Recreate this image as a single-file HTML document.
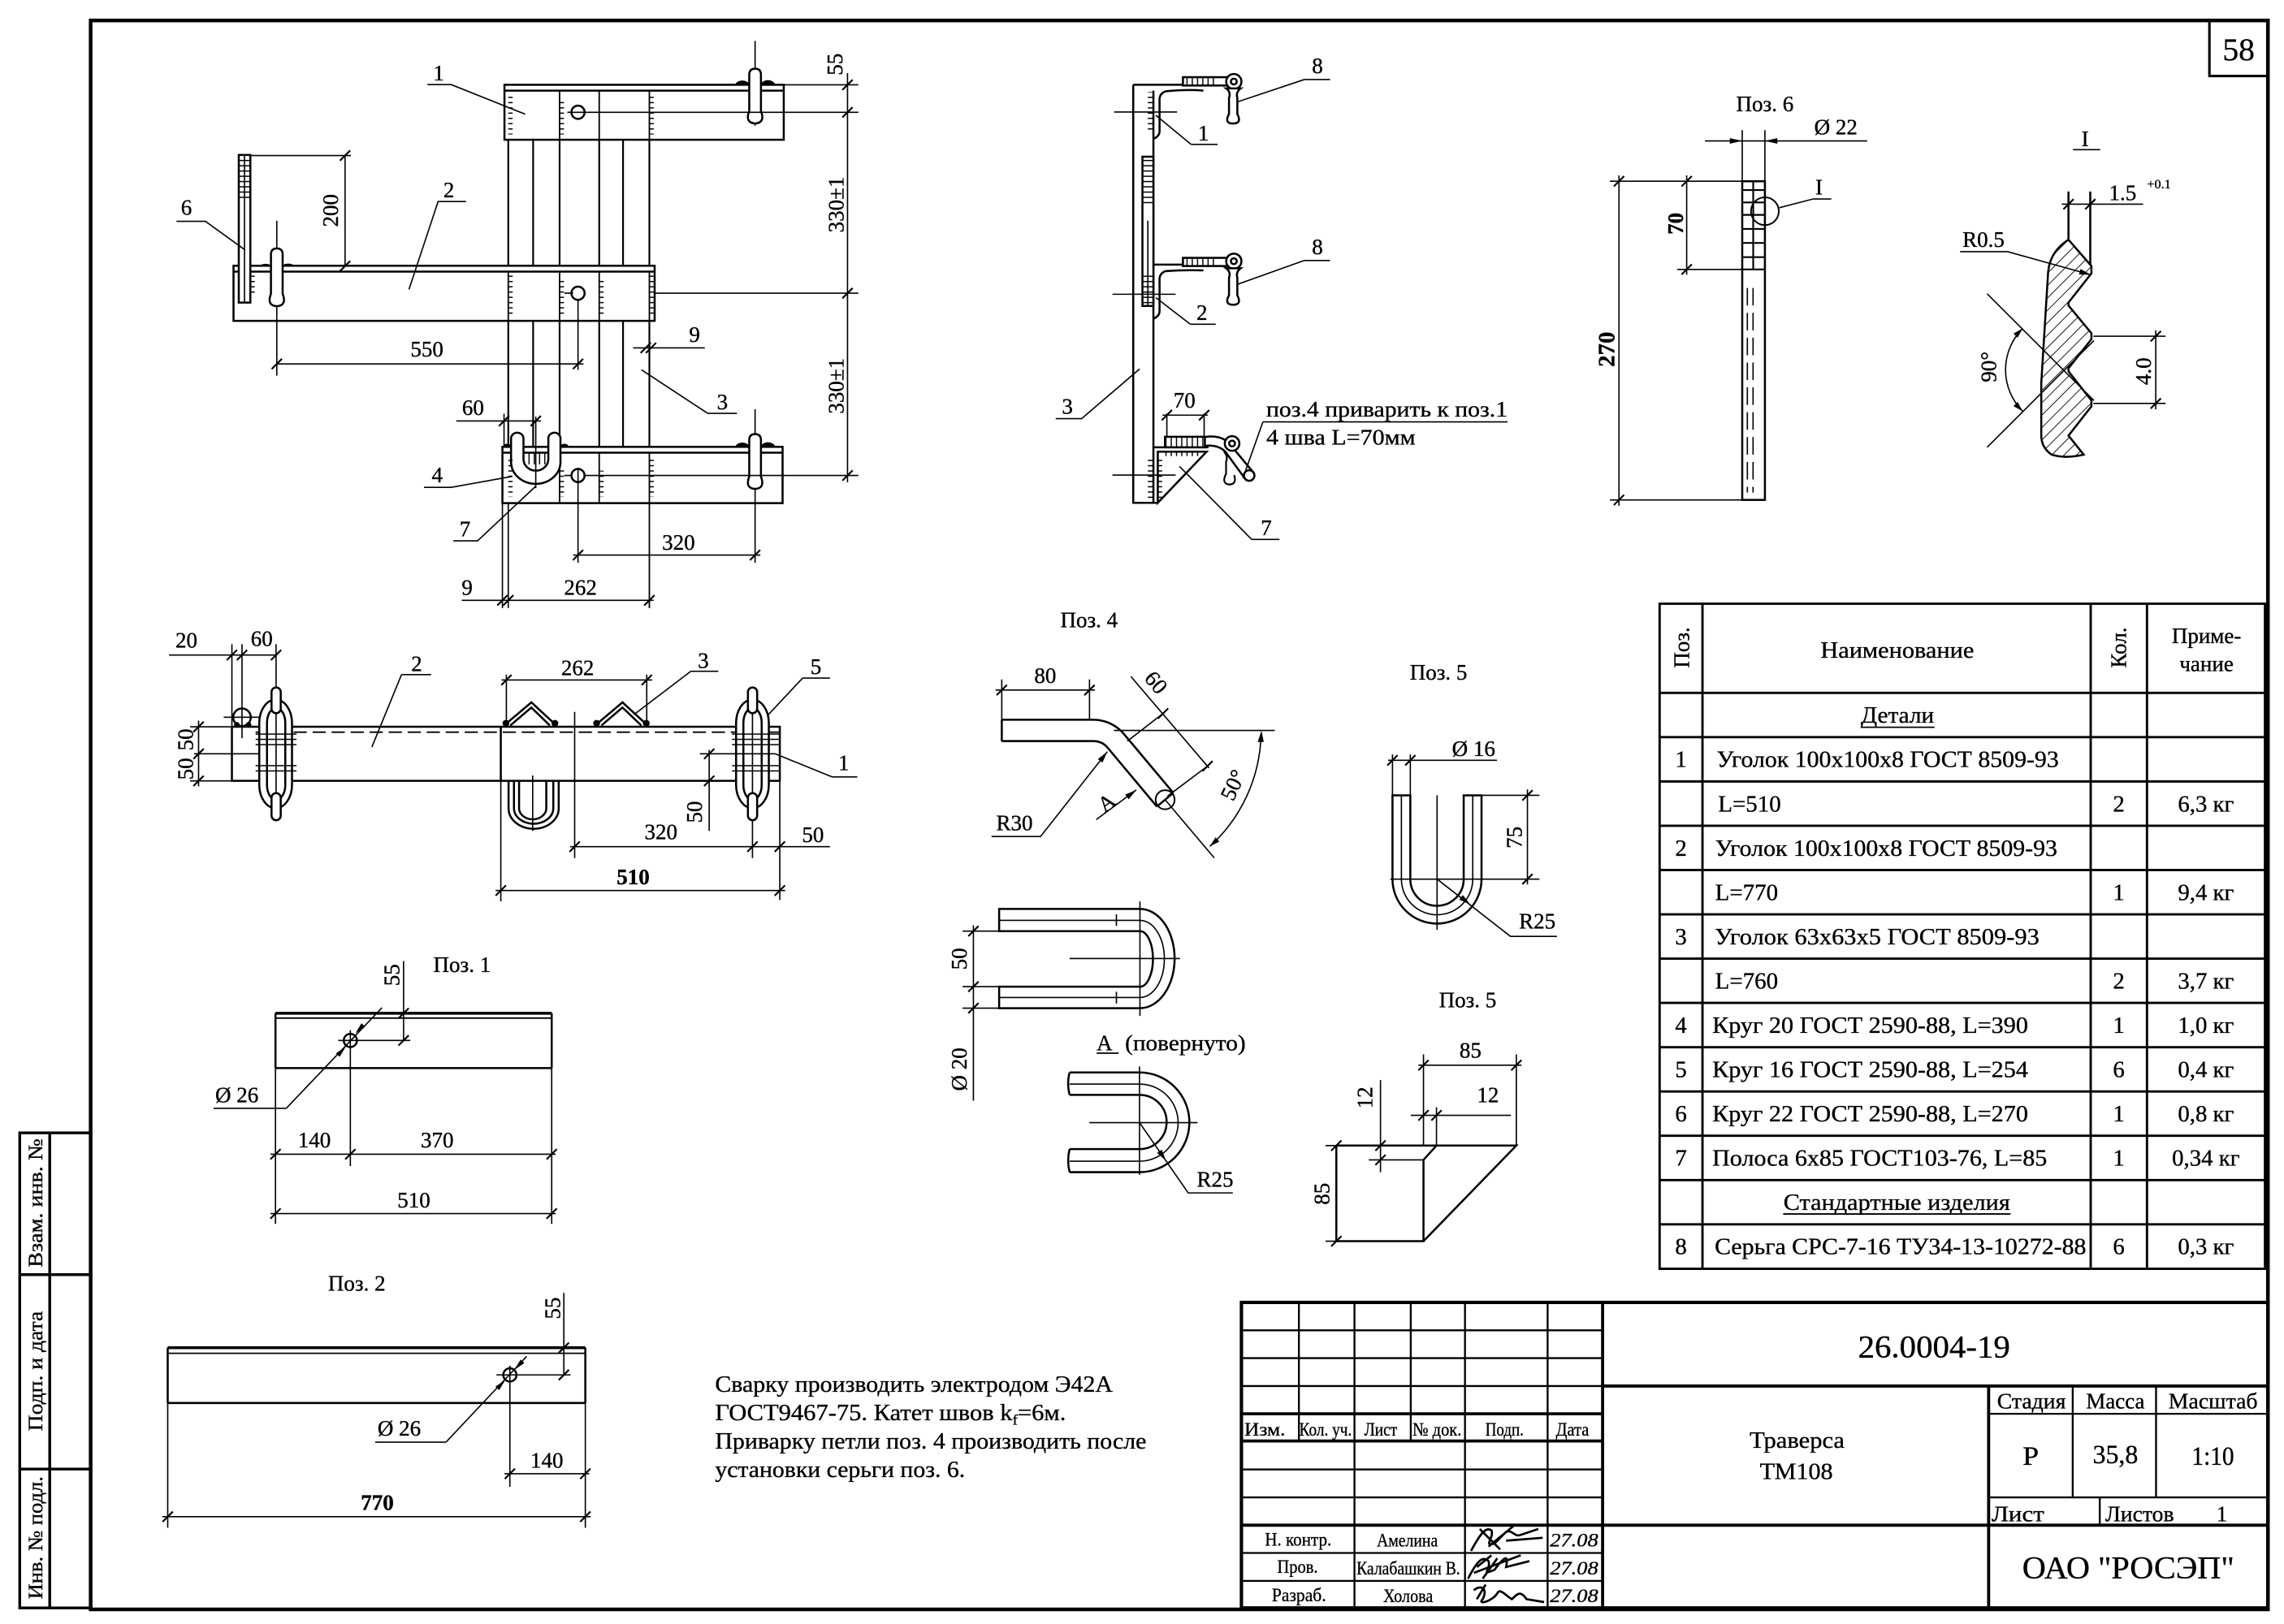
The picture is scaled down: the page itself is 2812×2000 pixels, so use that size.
<!DOCTYPE html>
<html><head><meta charset="utf-8"><title>Траверса ТМ108</title>
<style>
html,body{margin:0;padding:0;background:#fff;width:2812px;height:2000px;overflow:hidden}
svg{display:block}
text{font-family:"Liberation Serif","DejaVu Serif",serif;fill:#000;stroke:#000;stroke-width:0.2}
</style></head><body>
<svg xmlns="http://www.w3.org/2000/svg" width="2812" height="2000" viewBox="0 0 1562 1111" preserveAspectRatio="none">
<defs>
<pattern id="tk" width="40" height="3.6" patternUnits="userSpaceOnUse"><line x1="0" y1="1.8" x2="40" y2="1.8" stroke="#000" stroke-width="0.8"/></pattern>
<pattern id="tkv" width="3.6" height="40" patternUnits="userSpaceOnUse"><line x1="1.8" y1="0" x2="1.8" y2="40" stroke="#000" stroke-width="0.8"/></pattern>
<pattern id="ht" width="6" height="6" patternUnits="userSpaceOnUse" patternTransform="rotate(45)"><line x1="0" y1="0" x2="0" y2="6" stroke="#000" stroke-width="1"/></pattern>
</defs>

<!-- ============ MAIN OUTLINES ============ -->
<g fill="none" stroke="#000" stroke-width="1.4">
<rect x="62" y="14" width="1489" height="1087" stroke-width="2.5"/>
<rect x="1511" y="14" width="40" height="38" stroke-width="1.7"/>
<rect x="13.5" y="775" width="48.5" height="325" stroke-width="1.9"/>
<path d="M34,775V1100M13.5,872H62M13.5,1005H62" stroke-width="1.9"/>

<!-- ===== Drawing 1 (plan) ===== -->
<rect x="345" y="58" width="191" height="37.6" fill="#fff"/>
<path d="M345,62H536"/>
<rect x="159.7" y="181.8" width="288" height="37.7" fill="#fff"/>
<path d="M159.7,185.8H447.7"/>
<rect x="343.6" y="305.7" width="191.6" height="38.5" fill="#fff"/>
<path d="M343.6,309.7H535.2"/>
<path d="M347.6,95.6V181.8M364.6,95.6V181.8M382.7,95.6V181.8M409.8,95.6V181.8M426.1,95.6V181.8M444.1,95.6V181.8M347.6,219.5V305.7M364.6,219.5V305.7M382.7,219.5V305.7M409.8,219.5V305.7M426.1,219.5V305.7M444.1,219.5V305.7" stroke-width="1.2"/>
<path d="M382.7,62V95.6M409.8,62V95.6M444.1,62V95.6M347.6,185.8V219.5M382.7,185.8V219.5M409.8,185.8V219.5M444.1,185.8V219.5M409.8,309.7V344.2M444.1,309.7V416M382.7,309.7V344.2" stroke-width="1"/>
<circle cx="395.3" cy="76.8" r="4.5" fill="#fff"/>
<circle cx="395.3" cy="200.6" r="4.5" fill="#fff"/>
<circle cx="395.3" cy="325.3" r="4.5" fill="#fff"/>
<path fill="#fff" d="M512.4,51Q512.4,47 516.4,47Q520.4,47 520.4,51L520.4,76Q523.5,84 516.4,84.5Q509.3,84 512.4,76Z"/>
<path fill="#fff" d="M185.3,174Q185.3,170 189.3,170Q193.3,170 193.3,174L193.3,201Q196.4,209 189.3,209.5Q182.2,209 185.3,201Z"/>
<path fill="#fff" d="M512.4,301Q512.4,297 516.4,297Q520.4,297 520.4,301L520.4,326Q523.5,334 516.4,334.5Q509.3,334 512.4,326Z"/>
<rect x="163.3" y="106" width="7.9" height="101" fill="#fff"/>
<path d="M167.2,106V207" stroke-width="0.9"/>
<path fill="#fff" d="M349.5,300V316A16.9,15 0 0 0 383.3,316V300A4.15,4 0 0 0 375,300V314A8.5,8 0 0 1 358,314V300A4.25,4 0 0 0 349.5,300Z"/>
<rect x="358" y="309.7" width="17" height="8" fill="url(#tkv)" stroke="none"/>

<!-- ===== Drawing 2 (side) ===== -->
<path d="M775,58V344H791.8M775,58H824M788.8,62V344"/>
<path d="M823,62Q812,61 797,62.5Q793,64 793,68V90Q793,93 789,95"/>
<rect x="809" y="52.8" width="35" height="5.7" fill="#fff"/>
<circle cx="843.8" cy="55.8" r="5.2" fill="#fff"/><circle cx="843.8" cy="55.8" r="2"/>
<path fill="#fff" d="M838.5,60.5Q842,63 840.5,67V78Q837,84.5 843.3,84.5Q849.5,84.5 846.2,78V67Q845,63 848.5,60.5Z"/>
<rect x="781.3" y="107.2" width="7.5" height="102.1" fill="#fff"/>
<path d="M785,151V209.3" stroke-width="0.9"/>
<path d="M788.8,181H824"/>
<path d="M823,185Q812,184.5 797,185.5Q793,187 793,191V213Q793,216 789,218"/>
<rect x="809" y="176.4" width="35" height="5.6" fill="#fff"/>
<circle cx="843.8" cy="178.7" r="5.2" fill="#fff"/><circle cx="843.8" cy="178.7" r="2"/>
<path fill="#fff" d="M838.5,183.5Q842,186 840.5,190V202Q837,208.5 843.3,208.5Q849.5,208.5 846.2,202V190Q845,186 848.5,183.5Z"/>
<path d="M788.8,306H826.5"/>
<rect x="796.7" y="298.8" width="27.3" height="7.2" fill="#fff"/>
<path d="M791.8,309H825.2L791.8,344Z"/>
<path d="M824,299Q836,297 842,305L857,323M824,305Q833,304 838,309L851.5,327.5"/>
<circle cx="854.3" cy="325.3" r="3.6"/>
<circle cx="842.6" cy="303.4" r="5" fill="#fff"/><circle cx="842.6" cy="303.4" r="2"/>
<path d="M837,309Q840,312 838.5,316V324Q835,331 841,331.5Q846,331 844,325" stroke-width="1.2"/>

<!-- ===== Поз.6 ===== -->
<rect x="1191.5" y="124" width="15.5" height="218"/>
<path d="M1191.5,130H1207M1191.5,138.5H1207M1191.5,147H1207M1191.5,156.6H1207M1191.5,166.2H1207M1191.5,175.9H1207M1191.5,184.3H1207M1199,124V184.3" stroke-width="1.2"/>
<path d="M1195,197V337M1198.9,197V337" stroke-width="0.9" stroke-dasharray="12,5"/>
<circle cx="1207" cy="144.5" r="9.5" stroke-width="1.1"/>

<!-- ===== Detail I ===== -->
<path d="M1414.6,164L1430.3,182L1430.3,187L1414.6,207L1414.6,209L1430.3,228L1430.3,232L1414.6,252L1414.6,254L1430.3,274L1430.3,278L1414.6,298L1425,311Q1412,314 1403,311Q1396,306 1396,298L1396,262L1400.7,186Q1402,172 1414.6,164Z" fill="url(#ht)"/>
<path d="M1414.6,131V164M1429.5,131V181"/>

<!-- ===== Поз.4 U side view ===== -->
<path d="M683.3,621.8H779.6A23.7,33.95 0 0 1 779.6,689.7H683.3V675H779.6A8.9,19 0 0 0 779.6,637H683.3Z"/>
<path d="M683.3,629.6H779.6A16.7,26.4 0 0 1 779.6,682.4H683.3" stroke-width="0.9"/>
<!-- ===== View A ===== -->
<path d="M731.5,733.7H779.3A34.1,34.1 0 0 1 779.3,801.9H731.5M731.5,786.1H779.3A18.55,18.55 0 0 0 779.3,749H731.5M731.5,733.7Q729.5,741 731.5,749M731.5,786.1Q729.5,794 731.5,801.9"/>
<path d="M731.5,741.6H779.3A26.4,26.4 0 0 1 779.3,794.4H731.5" stroke-width="0.9"/>
<!-- ===== plate ===== -->
<path d="M913.9,783.7V849.1H973.5V793.5M913.9,783.7H1037L973.5,849.1M973.5,793.5L982.4,783.7"/>

<!-- ===== Drawing 4 (elevation) ===== -->
<path d="M158.6,497.2H533.3V534.2H158.6ZM342.5,497.2V534.2"/>
<path d="M174.8,500.9H533.3" stroke-width="1" stroke-dasharray="9,4"/>
<path d="M344.7,496.3L363.4,480.5L380.5,496.3M349,496.3L363.4,484L376,496.3M407,496.3L425.7,480.5L442.9,496.3M411.3,496.3L425.7,484L438.6,496.3"/>
<path d="M347.8,534.2V553A17.15,14 0 0 0 382.1,553V534.2M351.5,534.2V553A13.4,10.5 0 0 0 378.4,553V534.2M355,534.2V553A9.3,7.5 0 0 0 373.6,553V534.2"/>
<rect x="177.3" y="478.7" width="22.4" height="74.1" rx="11" ry="16" fill="#fff"/>
<rect x="182.6" y="484.5" width="12.5" height="62.5" rx="6" ry="10"/>
<rect x="185.7" y="470.3" width="6.3" height="17.6" rx="3.1" fill="#fff"/>
<rect x="185.7" y="542.6" width="6.3" height="18.5" rx="3.1" fill="#fff"/>
<path d="M188.8,488V542" stroke-width="0.9"/>
<rect x="503.4" y="478.7" width="22.4" height="74.1" rx="11" ry="16" fill="#fff"/>
<rect x="508.4" y="484.5" width="12.5" height="62.5" rx="6" ry="10"/>
<rect x="511.5" y="470.3" width="6.3" height="17.6" rx="3.1" fill="#fff"/>
<rect x="511.5" y="542.6" width="6.3" height="18.5" rx="3.1" fill="#fff"/>
<path d="M514.6,488V542" stroke-width="0.9"/>
<circle cx="165.5" cy="490.7" r="6"/>

<!-- ===== Поз.1 / Поз.2 ===== -->
<path d="M188.4,693.2H377.3M188.4,730.7H377.3M188.4,693.2V730.7M377.3,693.2V730.7"/>
<path d="M188.4,696.5H377.3" stroke-width="1"/>
<path d="M188.4,693.2H377.3" stroke-width="1.9"/>
<circle cx="239.6" cy="711.8" r="4.5"/>
<path d="M114.7,922H400.3M114.7,959.8H400.3M114.7,922V959.8M400.3,922V959.8"/>
<path d="M114.7,922H400.3" stroke-width="1.9"/>
<path d="M114.7,925.8H400.3" stroke-width="1"/>
<circle cx="348.7" cy="940.6" r="4.5"/>
</g>

<!-- weld ticks -->
<g stroke="none">
<rect x="347.6" y="64" width="3" height="28" fill="url(#tk)"/>
<rect x="382.7" y="68" width="3" height="24" fill="url(#tk)"/>
<rect x="444.1" y="64" width="3" height="28" fill="url(#tk)"/>
<rect x="347.6" y="188" width="3" height="28" fill="url(#tk)"/>
<rect x="382.7" y="190" width="3" height="26" fill="url(#tk)"/>
<rect x="409.8" y="190" width="3" height="26" fill="url(#tk)"/>
<rect x="444.1" y="188" width="3" height="28" fill="url(#tk)"/>
<rect x="347.6" y="312" width="3" height="28" fill="url(#tk)"/>
<rect x="382.7" y="320" width="3" height="20" fill="url(#tk)"/>
<rect x="409.8" y="322" width="3" height="18" fill="url(#tk)"/>
<rect x="444.1" y="312" width="3" height="28" fill="url(#tk)"/>
<rect x="163.3" y="107" width="7.9" height="30" fill="url(#tk)"/>
<rect x="171.2" y="186" width="3" height="16" fill="url(#tk)"/>
<rect x="785" y="63" width="3.8" height="26" fill="url(#tk)"/>
<rect x="781.3" y="108" width="7.5" height="33" fill="url(#tk)"/>
<rect x="781.3" y="188" width="7.5" height="22" fill="url(#tk)"/>
<rect x="785" y="312" width="3.8" height="30" fill="url(#tk)"/>
<rect x="791.8" y="313" width="3" height="28" fill="url(#tk)"/>
<rect x="795" y="309" width="26" height="3" fill="url(#tkv)"/>
<rect x="796.7" y="299" width="27" height="6.8" fill="url(#tkv)"/>
<rect x="811" y="53" width="20" height="5.3" fill="url(#tkv)"/>
<rect x="811" y="176.6" width="20" height="5.3" fill="url(#tkv)"/>
<rect x="174.8" y="501" width="28" height="9" fill="url(#tk)"/>
<rect x="174.8" y="521" width="28" height="9" fill="url(#tk)"/>
<rect x="500.6" y="501" width="32.7" height="9" fill="url(#tk)"/>
<rect x="500.6" y="521" width="32.7" height="9" fill="url(#tk)"/>
</g>

<!-- weld blobs -->
<g fill="#000" stroke="#000" stroke-width="0.6">
<path d="M503,58A5,4 0 0 1 512.4,58Z"/><path d="M520.4,58A5,4 0 0 1 530,58Z"/>
<path d="M178,181.8A5.5,4 0 0 1 185.3,181.8Z"/><path d="M193.3,181.8A5.5,4 0 0 1 201,181.8Z"/>
<path d="M503,305.7A5,4 0 0 1 512.4,305.7Z"/><path d="M520.4,305.7A5,4 0 0 1 530,305.7Z"/>
<path d="M344,305.7A3,3 0 0 1 349.5,305.7Z"/><path d="M383.3,305.7A3,3 0 0 1 388.8,305.7Z"/>
<circle cx="346" cy="494.8" r="2"/><circle cx="379.5" cy="494.8" r="2"/>
<circle cx="408" cy="494.8" r="2"/><circle cx="442" cy="494.8" r="2"/>
<circle cx="162" cy="495.8" r="1.6"/><circle cx="170" cy="495.8" r="1.6"/>
</g>

<!-- ============ THIN LINES ============ -->
<g fill="none" stroke="#000" stroke-width="0.9">
<!-- D1 -->
<path d="M388,76.8H587M448,200.6H587M386,200.6H392M399,325.3H587M386,325.3H391M395.3,320V385M395.3,205V253M516.4,28V47M516.4,84V86M516.4,280V297M516.4,334V385M189.3,151V170M189.3,209V257"/>
<path d="M171.3,106.4H240M236,106.4V182M189.3,249H399M433,238H482M312,288H370M344.7,283V306M366.4,285V334M392,379.7H520M315.8,410.7H447M343.6,344.2V416M347.6,344.2V416M536,58H587M579.6,50V330"/>
<path d="M292.3,57.9H308.6L359.2,78.1M120.7,151.4H140.5L167.6,171M318.7,137.9H299.6L279.7,198M484,282.8H504M484,282.8L438.7,253M290,333.4H308.6L350,326M310,370H326.6L366.4,332.6"/>
<!-- D2 -->
<path d="M762,76.6H805M760.8,201.3H804M760.8,325H804"/>
<path d="M814.6,98.8H832.7M814.6,98.8L790.5,78.9M892,54.4H909.6M892,54.4L846,69.8M814,221.8H831.4M814,221.8L790.5,203.6M892,178.2H909.6M892,178.2L846.3,194.5M722,286.4H739.7L779.4,252.4"/>
<path d="M798,282.9V298.8M823.5,282.9V298.8M795,284H826M863.7,288.6H1031M863.7,288.6L850,327.2M856,369H875M856,369L806.6,319"/>
<!-- Поз.6 -->
<path d="M1191.5,89V124M1207,89V124M1166,96.4H1277M1147,124H1191.5M1147,184.3H1191.5M1153.5,120V188M1101,124H1147M1101,342H1191.5M1107.2,120V346M1216.9,142.1L1240,136.1H1252.4"/>
<!-- Detail I -->
<path d="M1417.7,102.4H1436.3M1410,139.7H1465.6M1359,201L1432,274M1359,306L1432,233M1340.5,172.2H1373L1430,188M1431.6,230H1481M1431.6,276H1481M1474.3,226V280"/>
<path d="M1383.3,224.7A40,40 0 0 0 1383.3,281.3"/>
<!-- U side view dims -->
<path d="M779.6,616.7V695M731.5,655.7H807M658.3,637H683.3M658.3,675H683.3M658.3,689.7H683.3M665.7,633V753"/>
<path d="M763.5,625.5V633.5M763.5,678.5V686.5"/>
<path d="M750,720.5H765" stroke-width="1"/>
<!-- view A -->
<path d="M779.3,729.6V803.7M745,768H819M779.3,768L812.6,816.1H843.1"/>
<!-- plate dims -->
<path d="M973.5,721.3V783.7M982.4,757.4V783.7M1037,721.3V783.7M970,728.7H1040.5M964.8,763H1033.3M936.1,783.7H913.9M906.5,783.7H913.9M936.1,793.5H973.5M944.1,738.9V801.9M906.5,849.1H913.9"/>
<!-- D4 -->
<path d="M115.6,448.1H188.8M158.6,440.7V497.2M165.5,440.7V505M188.8,440.7V470.3M135.8,493V538M130,497.2H158.6M132.7,515.7H177.3M130,534.2H158.6"/>
<path d="M346.3,461.5V496M442.3,461.5V496M343,465.2H446"/>
<path d="M472.5,459.2H491.2M472.5,459.2L433.5,488.9M548.9,463.9H567.6M548.9,463.9L525.5,488.9M569.1,531.5H586.3M569.1,531.5L530.2,515.7M274.6,461.5H294.8M274.6,461.5L254.3,511.1"/>
<path d="M478.7,515.7H530.2M485,513V568.5M390,579.2H567.6M393,487V587M514.6,561V587M342.5,534.2V616.6M533.3,534.2V615.7M339,609.2H537M364.3,530.5V568.5M153,490.7H178"/>
<!-- Поз.1 / Поз.2 -->
<path d="M231.3,711.8H280.6M239.6,704.7V797.8M276,657.5V711.8M195.8,758.2L261.2,689.4M146.1,758.2H195.8M185,789.6H380M185,830.2H380M188.4,730.7V837.3M377.3,730.7V837.3"/>
<path d="M339.5,940.6H390.2M348.7,934.3V1017.2M385.6,884.5V941M305,986.6L360.2,927.9M256.6,986.6H305M345,1008.2H403M111,1037.6H404M114.7,959.8V1045.2M400.3,959.8V1045.2"/>
<path d="M1272.5,497.5H1323M1219.5,830.5H1375" stroke-width="1"/>
</g>

<!-- dimension ticks -->
<g fill="none" stroke="#000" stroke-width="1.2">
<path d="M232.5,109.9l7,-7M232.5,185.5l7,-7M185.8,252.5l7,-7M391.8,252.5l7,-7M438.1,241.5l7,-7M441.7,241.5l7,-7M341.2,291.5l7,-7M362.9,291.5l7,-7M391.8,383.2l7,-7M512.9,383.2l7,-7M340.1,414.2l7,-7M344.1,414.2l7,-7M440.6,414.2l7,-7M576.1,61.5l7,-7M576.1,80.3l7,-7M576.1,204.1l7,-7M576.1,328.8l7,-7"/>
<path d="M794.5,287.5l7,-7M820,287.5l7,-7"/>
<path d="M1150,127.5l7,-7M1150,187.8l7,-7M1103.7,127.5l7,-7M1103.7,345.5l7,-7M1411.1,143.2l7,-7M1426,143.2l7,-7M1470.8,233.5l7,-7M1470.8,279.5l7,-7"/>
<path d="M662.2,640.5l7,-7M662.2,678.5l7,-7M662.2,693.2l7,-7"/>
<path d="M970,732.2l7,-7M1033.5,732.2l7,-7M970,766.5l7,-7M978.9,766.5l7,-7M940.6,787.2l7,-7M940.6,797l7,-7M910.4,787.2l7,-7M910.4,852.6l7,-7"/>
<path d="M155.1,451.6l7,-7M162,451.6l7,-7M185.3,451.6l7,-7M132.3,500.7l7,-7M132.3,519.2l7,-7M132.3,537.7l7,-7M342.8,468.7l7,-7M438.8,468.7l7,-7M481.5,519.2l7,-7M481.5,537.7l7,-7M389.5,582.7l7,-7M511.1,582.7l7,-7M529.8,582.7l7,-7M339,612.7l7,-7M529.8,612.7l7,-7"/>
<path d="M184.9,793.1l7,-7M236.1,793.1l7,-7M373.8,793.1l7,-7M184.9,833.7l7,-7M373.8,833.7l7,-7M272.5,696.7l7,-7M272.5,715.3l7,-7M345.2,1011.7l7,-7M396.8,1011.7l7,-7M111.2,1041.1l7,-7M396.8,1041.1l7,-7M382.1,925.5l7,-7M382.1,944.1l7,-7"/>
</g>

<!-- arrowheads -->
<g fill="#000" stroke="none">
<polygon points="1191.5,96.4 1183,94.5 1183,98.3"/>
<polygon points="1207,96.4 1215.5,94.5 1215.5,98.3"/>
<polygon points="1430,188 1421.8,187.8 1422.8,184"/>
<polygon points="1383.3,224.7 1379.8,231 1377,228.2"/>
<polygon points="1383.3,281.3 1377,277.8 1379.8,275"/>
<polygon points="797.5,794.2 791.3,788.7 794.5,786.5"/>
<polygon points="236.5,716 232.3,723 229.7,720.6"/>
<polygon points="243,707 247.2,700 249.8,702.4"/>
<polygon points="345.6,944 341.4,951 338.8,948.6"/>
<polygon points="351.8,937.1 356,930.1 358.6,932.5"/>
</g>

<!-- ============ Поз.4 bent bar + Поз.5 U (shifted group) ============ -->
<g transform="translate(-3.2,-1.9)">
<g fill="none" stroke="#000" stroke-width="1.4">
<path d="M688.3,494.3H751A27.3,27.3 0 0 1 771.9,504.1L805.6,544.3M688.3,508.9H751A12.7,12.7 0 0 1 760.7,513.4L794.4,553.7M688.3,494.3V508.9M805.6,544.3L794.4,553.7"/>
<circle cx="800" cy="549" r="6.5" stroke-width="1.1"/>
<path d="M955.5,546V603.3A30.45,30.45 0 0 0 1016.4,603.3V546H1004.2V603.3A18.25,18.25 0 0 1 967.7,603.3V546Z"/>
<path d="M961.6,546V603.3A24.4,24.4 0 0 0 1010.4,603.3V546" stroke-width="0.9"/>
</g>
<g fill="none" stroke="#000" stroke-width="0.9">
<path d="M688.3,466.7V494.3M748.3,466.7V494.3M684,474H752"/>
<path d="M776.6,464.7L830,527.3M798.6,490L774.2,508.9M829,526L801.6,546.6M765,501.6H875M800,549L833.6,588.8M865.6,504.5A106.5,106.5 0 0 1 830.6,580.9"/>
<path d="M681.3,574.2H714.8L760.5,516.1M752.9,562.6L780.3,542.3"/>
<path d="M986,546V638M954,603.3H1056M955.5,518V546M967.7,518V546M952.5,522H1027M1016.4,546H1056M1047.8,542V607M986,603.3L1036.2,642.5H1068"/>
</g>
<g fill="none" stroke="#000" stroke-width="1.2">
<path d="M684.8,477.5l7,-7M744.8,477.5l7,-7M795.1,493.5l7,-7M825.5,529.5l7,-7"/>
<path d="M952,525.5l7,-7M964.2,525.5l7,-7M1044.3,549.5l7,-7M1044.3,606.8l7,-7"/>
</g>
<g fill="#000" stroke="none">
<polygon points="865.9,501.8 863.3,509.5 867.5,509.5"/>
<polygon points="830.6,580.9 837.1,577.7 834.5,574.7"/>
<polygon points="760.5,516.1 757.2,523.6 754,521.2"/>
<polygon points="780.3,542.3 775.1,548.7 772.7,545.5"/>
<polygon points="1008.8,620.7 1001.2,617.4 1003.6,614.2"/>
</g>
<g font-size="15">
<text x="748" y="431" text-anchor="middle">Поз. 4</text>
<text x="718" y="469" text-anchor="middle">80</text>
<text transform="translate(790,472) rotate(50)" text-anchor="middle">60</text>
<text transform="translate(851,541) rotate(-65)" text-anchor="middle">50°</text>
<text x="697" y="570" text-anchor="middle">R30</text>
<text transform="translate(763,555) rotate(-37)" text-anchor="middle">A</text>
<text x="987" y="467" text-anchor="middle">Поз. 5</text>
<text x="1011" y="519" text-anchor="middle">Ø 16</text>
<text transform="translate(1044,574.8) rotate(-90)" text-anchor="middle">75</text>
<text x="1054.5" y="637" text-anchor="middle">R25</text>
</g>
</g>

<!-- ============ TABLE ============ -->
<g fill="none" stroke="#000" stroke-width="1.6">
<rect x="1135" y="413" width="414" height="455"/>
<path d="M1164.3,413V868M1429.8,413V868M1468.3,413V868"/>
<path d="M1135,474H1549M1135,504.3H1549M1135,534.6H1549M1135,564.9H1549M1135,595.2H1549M1135,625.5H1549M1135,655.8H1549M1135,686.1H1549M1135,716.4H1549M1135,746.7H1549M1135,777H1549M1135,807.3H1549M1135,837.6H1549"/>
</g>
<g font-size="16">
<text transform="translate(1155,443) rotate(-90)" text-anchor="middle" font-size="15">Поз.</text>
<text x="1297.5" y="450" text-anchor="middle" textLength="105" lengthAdjust="spacingAndGlyphs">Наименование</text>
<text transform="translate(1454,443) rotate(-90)" text-anchor="middle" font-size="15">Кол.</text>
<text x="1509" y="440" text-anchor="middle" font-size="15">Приме-</text>
<text x="1509" y="459" text-anchor="middle" font-size="15">чание</text>
<text x="1297.7" y="494.5" text-anchor="middle" textLength="50" lengthAdjust="spacingAndGlyphs">Детали</text>
<text x="1149.6" y="524.8" text-anchor="middle">1</text>
<text x="1174" y="524.8" textLength="234" lengthAdjust="spacingAndGlyphs">Уголок 100x100x8 ГОСТ 8509-93</text>
<text x="1175" y="555.1" textLength="43" lengthAdjust="spacingAndGlyphs">L=510</text>
<text x="1449" y="555.1" text-anchor="middle">2</text>
<text x="1508.6" y="555.1" text-anchor="middle">6,3 кг</text>
<text x="1149.6" y="585.4" text-anchor="middle">2</text>
<text x="1173" y="585.4" textLength="234" lengthAdjust="spacingAndGlyphs">Уголок 100x100x8 ГОСТ 8509-93</text>
<text x="1173" y="615.7" textLength="43" lengthAdjust="spacingAndGlyphs">L=770</text>
<text x="1449" y="615.7" text-anchor="middle">1</text>
<text x="1508.6" y="615.7" text-anchor="middle">9,4 кг</text>
<text x="1149.6" y="646" text-anchor="middle">3</text>
<text x="1172.7" y="646" textLength="222" lengthAdjust="spacingAndGlyphs">Уголок 63x63x5 ГОСТ 8509-93</text>
<text x="1173" y="676.3" textLength="43" lengthAdjust="spacingAndGlyphs">L=760</text>
<text x="1449" y="676.3" text-anchor="middle">2</text>
<text x="1508.6" y="676.3" text-anchor="middle">3,7 кг</text>
<text x="1149.6" y="706.6" text-anchor="middle">4</text>
<text x="1171" y="706.6" textLength="216" lengthAdjust="spacingAndGlyphs">Круг 20 ГОСТ 2590-88, L=390</text>
<text x="1449" y="706.6" text-anchor="middle">1</text>
<text x="1508.6" y="706.6" text-anchor="middle">1,0 кг</text>
<text x="1149.6" y="736.9" text-anchor="middle">5</text>
<text x="1171" y="736.9" textLength="216" lengthAdjust="spacingAndGlyphs">Круг 16 ГОСТ 2590-88, L=254</text>
<text x="1449" y="736.9" text-anchor="middle">6</text>
<text x="1508.6" y="736.9" text-anchor="middle">0,4 кг</text>
<text x="1149.6" y="767.2" text-anchor="middle">6</text>
<text x="1171" y="767.2" textLength="216" lengthAdjust="spacingAndGlyphs">Круг 22 ГОСТ 2590-88, L=270</text>
<text x="1449" y="767.2" text-anchor="middle">1</text>
<text x="1508.6" y="767.2" text-anchor="middle">0,8 кг</text>
<text x="1149.6" y="797.5" text-anchor="middle">7</text>
<text x="1171" y="797.5" textLength="229" lengthAdjust="spacingAndGlyphs">Полоса 6x85 ГОСТ103-76, L=85</text>
<text x="1449" y="797.5" text-anchor="middle">1</text>
<text x="1508.6" y="797.5" text-anchor="middle">0,34 кг</text>
<text x="1297.2" y="827.8" text-anchor="middle" textLength="155" lengthAdjust="spacingAndGlyphs">Стандартные изделия</text>
<text x="1149.6" y="858.1" text-anchor="middle">8</text>
<text x="1172.7" y="858.1" textLength="254" lengthAdjust="spacingAndGlyphs">Серьга СРС-7-16 ТУ34-13-10272-88</text>
<text x="1449" y="858.1" text-anchor="middle">6</text>
<text x="1508.6" y="858.1" text-anchor="middle">0,3 кг</text>
</g>

<!-- ============ TITLE BLOCK ============ -->
<g fill="none" stroke="#000" stroke-width="1.3">
<rect x="849" y="891" width="702" height="209" stroke-width="2.3"/>
<path d="M849,910.1H1096M849,929.1H1096M849,948.2H1096M849,1005.3H1096M849,1024.4H1096M849,1062.4H1096M849,1081.5H1096"/>
<path d="M849,967.2H1096M849,985.8H1096M849,1043.4H1551M1096,948.2H1551" stroke-width="2.1"/>
<path d="M888.3,891V985.8M926.3,891V1100M964.8,891V985.8M1001.9,891V1100M1058.4,891V1100"/>
<path d="M1096,891V1100M1360,948.2V1100" stroke-width="2.1"/>
<path d="M1360,967.2H1551M1360,1024.4H1551M1417.5,948.2V1024.4M1474.5,948.2V1024.4M1436,1024.4V1043.4"/>
</g>
<g>
<text x="1322.7" y="928.5" text-anchor="middle" font-size="22" textLength="104" lengthAdjust="spacingAndGlyphs">26.0004-19</text>
<text x="1229" y="990.4" text-anchor="middle" font-size="16" textLength="65" lengthAdjust="spacingAndGlyphs">Траверса</text>
<text x="1228.5" y="1011.8" text-anchor="middle" font-size="16" textLength="50" lengthAdjust="spacingAndGlyphs">ТМ108</text>
<text x="1389.3" y="963.5" text-anchor="middle" font-size="15" textLength="47" lengthAdjust="spacingAndGlyphs">Стадия</text>
<text x="1446.7" y="963.5" text-anchor="middle" font-size="15" textLength="40" lengthAdjust="spacingAndGlyphs">Масса</text>
<text x="1513.5" y="963.5" text-anchor="middle" font-size="15" textLength="61" lengthAdjust="spacingAndGlyphs">Масштаб</text>
<text x="1388.8" y="1002" text-anchor="middle" font-size="18" textLength="11" lengthAdjust="spacingAndGlyphs">Р</text>
<text x="1446.7" y="1001" text-anchor="middle" font-size="18" textLength="31" lengthAdjust="spacingAndGlyphs">35,8</text>
<text x="1513.4" y="1002" text-anchor="middle" font-size="18" textLength="29" lengthAdjust="spacingAndGlyphs">1:10</text>
<text x="1362" y="1040.6" font-size="15" textLength="36" lengthAdjust="spacingAndGlyphs">Лист</text>
<text x="1439.8" y="1040.6" font-size="15" textLength="47" lengthAdjust="spacingAndGlyphs">Листов</text>
<text x="1519.5" y="1040.6" text-anchor="middle" font-size="15">1</text>
<text x="1455.5" y="1079.6" text-anchor="middle" font-size="22" textLength="145" lengthAdjust="spacingAndGlyphs">ОАО "РОСЭП"</text>
<g font-size="13">
<text x="851" y="982" textLength="28" lengthAdjust="spacingAndGlyphs">Изм.</text>
<text x="888.5" y="982" textLength="36" lengthAdjust="spacingAndGlyphs">Кол. уч.</text>
<text x="933" y="982" textLength="22.5" lengthAdjust="spacingAndGlyphs">Лист</text>
<text x="966" y="982" textLength="33.5" lengthAdjust="spacingAndGlyphs">№ док.</text>
<text x="1015.8" y="982" textLength="26.2" lengthAdjust="spacingAndGlyphs">Подп.</text>
<text x="1064" y="982" textLength="22.7" lengthAdjust="spacingAndGlyphs">Дата</text>
<text x="865" y="1057.3" textLength="45.6" lengthAdjust="spacingAndGlyphs">Н. контр.</text>
<text x="941.6" y="1058" textLength="41.7" lengthAdjust="spacingAndGlyphs">Амелина</text>
<text x="873.5" y="1076" textLength="27.8" lengthAdjust="spacingAndGlyphs">Пров.</text>
<text x="927.7" y="1077" textLength="70.9" lengthAdjust="spacingAndGlyphs">Калабашкин В.</text>
<text x="869.8" y="1095.4" textLength="37.1" lengthAdjust="spacingAndGlyphs">Разраб.</text>
<text x="946" y="1096" textLength="34" lengthAdjust="spacingAndGlyphs">Холова</text>
<text x="1060" y="1058" font-style="italic" textLength="33" lengthAdjust="spacingAndGlyphs">27.08</text>
<text x="1060" y="1077" font-style="italic" textLength="33" lengthAdjust="spacingAndGlyphs">27.08</text>
<text x="1060" y="1096" font-style="italic" textLength="33" lengthAdjust="spacingAndGlyphs">27.08</text>
</g>
</g>
<g fill="none" stroke="#000" stroke-width="1.5">
<path d="M1006,1061C1012,1050 1016,1044 1020,1047C1022,1052 1014,1058 1022,1056L1030,1048C1034,1046 1036,1052 1040,1050L1052,1046M1018,1058L1035,1044M1030,1054L1055,1052M1012,1046L1026,1060"/>
<path d="M1004,1080C1010,1068 1014,1064 1018,1068C1020,1074 1012,1078 1022,1074C1028,1066 1032,1062 1030,1072L1046,1068M1008,1076L1040,1064M1010,1072L1020,1064M1014,1080L1024,1066"/>
<path d="M1008,1088C1012,1084 1018,1086 1014,1094C1010,1098 1020,1096 1024,1090C1026,1086 1030,1092 1034,1094C1038,1090 1040,1088 1044,1094L1056,1096M1010,1094L1016,1084"/>
</g>

<!-- ============ TEXT LABELS ============ -->
<g font-size="15">
<text x="1531" y="41" text-anchor="middle" font-size="22">58</text>
<text transform="translate(29,823) rotate(-90)" text-anchor="middle" font-size="14" textLength="88" lengthAdjust="spacingAndGlyphs">Взам. инв. №</text>
<text transform="translate(29,938) rotate(-90)" text-anchor="middle" font-size="14" textLength="82" lengthAdjust="spacingAndGlyphs">Подп. и дата</text>
<text transform="translate(29,1052) rotate(-90)" text-anchor="middle" font-size="14" textLength="84" lengthAdjust="spacingAndGlyphs">Инв. № подл.</text>

<!-- D1 -->
<text x="300" y="55" text-anchor="middle">1</text>
<text x="127.5" y="147" text-anchor="middle">6</text>
<text x="307" y="135" text-anchor="middle">2</text>
<text transform="translate(231,144) rotate(-90)" text-anchor="middle">200</text>
<text x="292" y="244" text-anchor="middle">550</text>
<text x="475" y="234" text-anchor="middle">9</text>
<text x="494" y="280" text-anchor="middle">3</text>
<text x="323.5" y="284" text-anchor="middle">60</text>
<text x="299" y="330" text-anchor="middle">4</text>
<text x="318" y="367" text-anchor="middle">7</text>
<text x="464" y="376" text-anchor="middle">320</text>
<text x="397" y="407" text-anchor="middle">262</text>
<text x="319.5" y="407" text-anchor="middle">9</text>
<text transform="translate(576,44) rotate(-90)" text-anchor="middle">55</text>
<text transform="translate(577,140) rotate(-90)" text-anchor="middle">330±1</text>
<text transform="translate(577,264) rotate(-90)" text-anchor="middle">330±1</text>

<!-- D2 -->
<text x="823" y="96" text-anchor="middle">1</text>
<text x="901" y="50" text-anchor="middle">8</text>
<text x="822" y="219" text-anchor="middle">2</text>
<text x="901" y="174" text-anchor="middle">8</text>
<text x="730" y="283" text-anchor="middle">3</text>
<text x="810" y="279" text-anchor="middle">70</text>
<text x="866" y="285" textLength="165" lengthAdjust="spacingAndGlyphs">поз.4 приварить к поз.1</text>
<text x="866" y="304" textLength="102" lengthAdjust="spacingAndGlyphs">4 шва L=70мм</text>
<text x="866" y="366" text-anchor="middle">7</text>

<!-- Поз.6 -->
<text x="1207" y="76" text-anchor="middle">Поз. 6</text>
<text x="1255.5" y="92" text-anchor="middle">Ø 22</text>
<text x="1244" y="133" text-anchor="middle">I</text>
<text transform="translate(1151,153) rotate(-90)" text-anchor="middle" font-weight="bold">70</text>
<text transform="translate(1104,239) rotate(-90)" text-anchor="middle" font-weight="bold" font-size="16">270</text>

<!-- Detail I -->
<text x="1426" y="100" text-anchor="middle">I</text>
<text x="1451.7" y="137" text-anchor="middle">1.5</text>
<text x="1476.5" y="129" text-anchor="middle" font-size="9">+0.1</text>
<text x="1356.5" y="169" text-anchor="middle">R0.5</text>
<text transform="translate(1365,251) rotate(-90)" text-anchor="middle">90°</text>
<text transform="translate(1471,254) rotate(-90)" text-anchor="middle">4.0</text>

<!-- U side view / view A -->
<text transform="translate(661,656) rotate(-90)" text-anchor="middle">50</text>
<text transform="translate(661,731.5) rotate(-90)" text-anchor="middle">Ø 20</text>
<text x="750" y="718.5">A</text>
<text x="769.4" y="718.5" textLength="82.5" lengthAdjust="spacingAndGlyphs">(повернуто)</text>
<text x="831" y="812" text-anchor="middle">R25</text>

<!-- plate -->
<text x="1003.7" y="689" text-anchor="middle">Поз. 5</text>
<text x="1005.6" y="723.5" text-anchor="middle">85</text>
<text x="1017.6" y="754" text-anchor="middle">12</text>
<text transform="translate(938.5,751) rotate(-90)" text-anchor="middle">12</text>
<text transform="translate(909,816.7) rotate(-90)" text-anchor="middle">85</text>

<!-- D4 -->
<text x="127.5" y="443" text-anchor="middle">20</text>
<text x="179" y="442" text-anchor="middle">60</text>
<text x="285" y="459" text-anchor="middle">2</text>
<text x="395" y="462" text-anchor="middle">262</text>
<text x="481" y="457" text-anchor="middle">3</text>
<text x="558" y="461" text-anchor="middle">5</text>
<text x="577" y="527" text-anchor="middle">1</text>
<text transform="translate(132,506) rotate(-90)" text-anchor="middle">50</text>
<text transform="translate(132,526) rotate(-90)" text-anchor="middle">50</text>
<text transform="translate(480,555.5) rotate(-90)" text-anchor="middle">50</text>
<text x="452" y="574" text-anchor="middle">320</text>
<text x="556" y="576" text-anchor="middle">50</text>
<text x="433" y="605" text-anchor="middle" font-weight="bold">510</text>

<!-- Поз.1 / Поз.2 -->
<text x="316" y="665" text-anchor="middle">Поз. 1</text>
<text transform="translate(273,667) rotate(-90)" text-anchor="middle">55</text>
<text x="162" y="754" text-anchor="middle">Ø 26</text>
<text x="215" y="785" text-anchor="middle">140</text>
<text x="299" y="785" text-anchor="middle">370</text>
<text x="283" y="826" text-anchor="middle">510</text>
<text x="244" y="883" text-anchor="middle">Поз. 2</text>
<text transform="translate(383,895) rotate(-90)" text-anchor="middle">55</text>
<text x="273" y="982" text-anchor="middle">Ø 26</text>
<text x="374" y="1004" text-anchor="middle">140</text>
<text x="258" y="1033" text-anchor="middle" font-weight="bold">770</text>

<!-- notes -->
<text x="489" y="952" font-size="16" textLength="272" lengthAdjust="spacingAndGlyphs">Сварку производить электродом Э42А</text>
<text x="489" y="971.5" font-size="16" textLength="240" lengthAdjust="spacingAndGlyphs">ГОСТ9467-75. Катет швов k<tspan font-size="10" dy="3">f</tspan><tspan dy="-3">=6м.</tspan></text>
<text x="489" y="991" font-size="16" textLength="295" lengthAdjust="spacingAndGlyphs">Приварку петли поз. 4 производить после</text>
<text x="489" y="1010.5" font-size="16" textLength="171" lengthAdjust="spacingAndGlyphs">установки серьги поз. 6.</text>
</g>
</svg>
</body></html>
